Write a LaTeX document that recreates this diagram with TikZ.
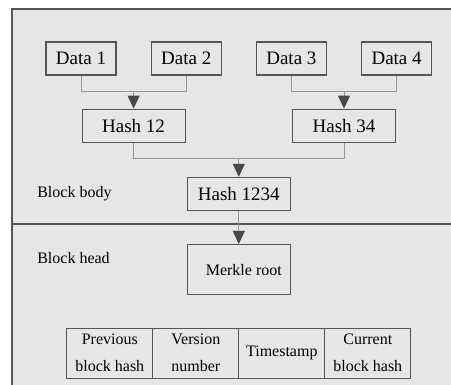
\documentclass[tikz,border=0pt]{standalone}
\usepackage{fontspec}
\setmainfont{Liberation Serif}
\usepackage{tikz}
\usetikzlibrary{positioning, arrows.meta, calc}

\definecolor{panel}{HTML}{E6E6E6}
\definecolor{edge}{HTML}{555555}
\definecolor{wire}{HTML}{959595}
\definecolor{tip}{HTML}{474747}

\begin{document}
\begin{tikzpicture}[
        x=1pt, y=1pt,
        node distance=34pt,
        >={Triangle[length=13pt, width=12pt, color=tip]},
        box/.style={draw=edge, line width=1.2pt, minimum width=#1, minimum height=33pt, inner sep=0pt, font=\fontsize{19}{22}\selectfont},
        box/.default=70pt,
        cell/.style={draw=edge, line width=1.2pt, minimum width=86pt, minimum height=50pt, inner sep=0pt, outer sep=0pt, align=center, font=\fontsize{16}{27}\selectfont},
        tag/.style={inner sep=0pt, font=\fontsize{16}{19}\selectfont},
        link/.style={draw=wire, line width=0.9pt}
    ]
        \useasboundingbox (0,0) rectangle (451,-385);
        % panel with the body/head split
        \fill[panel] (12,-9) rectangle (451,-385);
        \draw[edge, line width=1.5pt] (12,-385) |- (451,-9);
        \draw[edge, line width=1.5pt] (12,-224) -- (451,-224);

        % leaves
        \node[box] (d1) at (81,-58.5) {Data 1};
        \node[box, right=of d1] (d2) {Data 2};
        \node[box, right=of d2] (d3) {Data 3};
        \node[box, right=of d3] (d4) {Data 4};

        % pair hashes
        \coordinate (j12) at ($(d1.south)!0.5!(d2.south)+(0,-16)$);
        \coordinate (j34) at ($(d3.south)!0.5!(d4.south)+(0,-16)$);
        \node[box=103pt, below=17pt of j12] (h12) {Hash 12};
        \node[box=103pt, below=17pt of j34] (h34) {Hash 34};

        \coordinate (j1234) at ($(h12.south)!0.5!(h34.south)+(0,-16)$);
        \node[box=103pt, below=18pt of j1234] (h1234) {Hash 1234};
        \node[box=103pt, minimum height=50pt, below=33pt of h1234, font=\fontsize{16}{19}\selectfont] (merkle) {\hspace{10pt}Merkle root};

        % header fields
        \node[cell, below left=33pt and 0pt of merkle.south] (c2) {Version\\number};
        \node[cell, left=0pt of c2] (c1) {Previous\\block hash};
        \node[cell, right=0pt of c2] (c3) {Timestamp};
        \node[cell, right=0pt of c3] (c4) {Current\\block hash};

        \node[tag, left=75pt of h1234] (body) {Block body};
        \node[tag, anchor=west] (head) at ($(body.west)+(0,-64)$) {Block head};

        \draw[link] (d1.south) |- (j12) -| (d2.south);
        \draw[link] (d3.south) |- (j34) -| (d4.south);
        \draw[link] (h12.south) |- (j1234) -| (h34.south);
        \draw[link, ->] (j12) -- (h12);
        \draw[link, ->] (j34) -- (h34);
        \draw[link, ->] (j1234) -- (h1234);
        \draw[link, ->] (h1234) -- (merkle);
    \end{tikzpicture}
\end{document}
